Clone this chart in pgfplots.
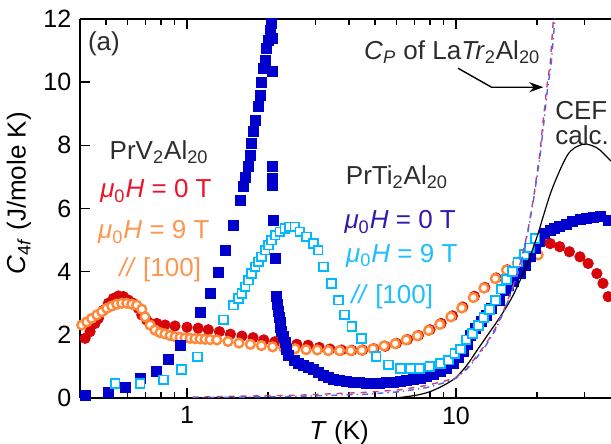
\documentclass[border=0pt]{standalone}
\usepackage{pgfplots}
\pgfplotsset{compat=1.18}
\usepackage{fontspec}
\setmainfont{Liberation Sans}
\usetikzlibrary{arrows.meta}
\definecolor{cred}{RGB}{215,5,10}
\definecolor{corange}{RGB}{255,135,55}
\definecolor{cblue}{RGB}{0,0,205}
\definecolor{ccyan}{RGB}{0,185,255}
\definecolor{lred}{RGB}{235,20,40}
\definecolor{lorange}{RGB}{255,150,80}
\definecolor{lblue}{RGB}{50,25,175}
\definecolor{lcyan}{RGB}{30,190,255}
\definecolor{cdark}{RGB}{45,45,45}
\definecolor{cpink}{RGB}{210,60,120}
\definecolor{cdash}{RGB}{80,100,230}
\newcommand{\lab}{\fontsize{13}{13}\selectfont}
\begin{document}
\fontsize{12.5}{15}\selectfont
\begin{tikzpicture}
\begin{axis}[
  scale only axis, width=265.5pt, height=189.5pt,
  xmode=log, xmin=0.4, xmax=37.7, ymin=0, ymax=12,
  axis x line*=box, axis y line*=left,
  axis line style={-, black, line width=0.8pt},
  tick align=inside,
  xtick={1,10}, xticklabels={1,10},
  minor xtick={0.5,0.6,0.7,0.8,0.9,2,3,4,5,6,7,8,9,20,30},
  ytick={0,2,4,6,8,10,12},
  major tick length=5pt, minor tick length=3pt,
  every tick/.style={black, line width=0.7pt},
  /pgf/number format/assume math mode=true,
  clip mode=individual,
  xlabel={\textit{T} (K)},
  ylabel={\textit{C}\textsubscript{4\textit{f}} (J/mole K)},
  every axis x label/.style={at={(axis description cs:0.488,0)}, anchor=north, yshift=-7pt, font=\lab},
  every axis y label/.style={at={(axis description cs:-0.115,0.54)}, rotate=90, anchor=center, font=\lab},
]
% PrV2Al20 0 T (red filled circles)
\addplot[only marks, mark=*, mark size=2.6pt, mark options={draw=cred, fill=cred}] coordinates {
(0.418,1.89)(0.436,2.10)(0.455,2.36)(0.468,2.52)(0.489,2.78)(0.51,3.0)(0.532,3.15)(0.556,3.23)(0.58,3.21)(0.605,3.10)(0.631,3.0)(0.659,2.84)(0.679,2.63)(0.708,2.47)(0.729,2.36)(0.772,2.36)(0.828,2.31)(0.902,2.28)(1.0,2.24)(1.1,2.21)(1.2,2.16)(1.32,2.10)(1.45,2.02)(1.6,1.96)(1.76,1.91)(1.93,1.84)(2.12,1.78)(2.33,1.74)(2.56,1.70)(2.82,1.67)(3.1,1.60)(3.4,1.55)(3.75,1.52)(4.1,1.51)(4.5,1.52)(4.95,1.56)(5.45,1.64)(6.0,1.73)(6.6,1.85)(7.25,1.98)(8.0,2.16)(8.8,2.36)(9.7,2.60)(10.6,2.88)(11.7,3.22)(12.8,3.50)(14.1,3.80)(15.5,4.06)(17.0,4.3)(18.5,4.5)(19.6,4.75)(20.8,4.95)(22.4,4.89)(24.3,4.79)(26.4,4.63)(28.9,4.47)(31.0,4.26)(33.4,3.94)(35.2,3.63)(36.8,3.21)(38.5,2.9)
};
% PrV2Al20 9 T (orange open circles)
\addplot[only marks, mark=*, mark size=2.2pt, mark options={draw=corange, fill=white, line width=1.2pt}] coordinates {
(0.406,2.31)(0.424,2.41)(0.442,2.52)(0.462,2.63)(0.482,2.73)(0.503,2.84)(0.525,2.91)(0.548,2.97)(0.572,3.0)(0.597,3.0)(0.623,2.97)(0.65,2.94)(0.679,2.81)(0.698,2.57)(0.729,2.31)(0.76,2.15)(0.794,2.07)(0.828,2.03)(0.865,1.98)(0.903,1.94)(0.942,1.92)(0.983,1.90)(1.026,1.89)(1.071,1.88)(1.118,1.87)(1.167,1.86)(1.218,1.85)(1.29,1.84)(1.42,1.79)(1.56,1.74)(1.72,1.70)(1.89,1.66)(2.08,1.62)(2.29,1.59)(2.52,1.56)(2.77,1.53)(3.05,1.52)(3.35,1.50)(3.69,1.50)(4.06,1.50)(4.46,1.51)(4.91,1.56)(5.40,1.65)(5.94,1.72)(6.53,1.84)(7.19,1.97)(7.91,2.14)(8.70,2.33)(9.57,2.57)(10.5,2.85)(11.6,3.18)(12.7,3.48)(14.0,3.78)(15.4,4.05)(16.9,4.27)(18.6,4.42)(20.2,4.53)
};
% PrTi2Al20 0 T (blue filled squares)
\addplot[only marks, mark=square*, mark size=2.5pt, mark options={draw=cblue, fill=cblue}] coordinates {
(0.418,0.09)(0.51,0.17)(0.588,0.34)(0.669,0.62)(0.772,0.83)(0.852,1.22)(0.942,1.65)(1.118,2.70)(1.218,3.31)(1.307,3.97)(1.384,4.68)(1.486,5.47)(1.574,6.27)(1.619,6.69)(1.643,7.0)(1.690,7.32)(1.714,7.69)(1.740,8.06)(1.764,8.43)(1.790,8.80)(1.841,9.22)(1.867,9.59)(1.895,10.0)(1.921,10.43)(1.949,10.70)(1.978,11.07)(2.005,11.33)(2.034,11.65)(2.063,11.86)(2.07,11.4)(2.07,10.33)(2.07,7.32)(2.07,6.95)(2.08,6.74)(2.093,5.63)(2.125,4.42)(2.153,3.21)(2.17,2.95)(2.184,2.73)(2.2,2.55)(2.215,2.40)(2.23,2.25)(2.248,2.12)(2.28,1.95)(2.312,1.75)(2.35,1.55)(2.38,1.36)(2.5,1.18)(2.6,1.10)(2.706,1.04)(2.82,0.96)(2.947,0.89)(3.08,0.80)(3.214,0.73)(3.35,0.66)(3.5,0.60)(3.7,0.55)(3.92,0.52)(4.15,0.49)(4.39,0.48)(4.65,0.46)(4.93,0.46)(5.2,0.47)(5.53,0.48)(5.85,0.50)(6.2,0.52)(6.55,0.55)(6.95,0.59)(7.35,0.63)(7.79,0.67)(8.25,0.74)(8.74,0.83)(9.25,0.95)(9.78,1.10)(10.2,1.28)(10.66,1.47)(11.0,1.7)(11.27,1.99)(11.85,2.2)(12.46,2.42)(13.0,2.62)(13.59,2.84)(14.55,3.10)(15.2,3.42)(15.7,3.55)(16.3,3.68)(17.3,3.94)(18.1,4.2)(18.9,4.47)(19.7,4.75)(20.5,4.95)(21.4,5.21)(22.4,5.32)(23.3,5.37)(24.3,5.42)(25.7,5.5)(27.2,5.58)(28.9,5.64)(30.6,5.69)(32.4,5.72)(34.3,5.74)(36.8,5.63)(38,5.6)
};
% PrTi2Al20 9 T (cyan open squares)
\addplot[only marks, mark=square*, mark size=2.2pt, mark options={draw=ccyan, fill=white, line width=0.9pt}] coordinates {
(0.54,0.46)(0.669,0.46)(0.817,0.57)(0.956,0.91)(1.095,1.30)(1.365,2.47)(1.486,2.94)(1.55,3.15)(1.60,3.31)(1.643,3.52)(1.69,3.73)(1.74,3.94)(1.79,4.15)(1.84,4.31)(1.895,4.47)(1.95,4.68)(2.005,4.84)(2.063,5.0)(2.125,5.16)(2.215,5.26)(2.31,5.37)(2.41,5.42)(2.52,5.42)(2.63,5.26)(2.78,5.10)(2.95,4.89)(3.07,4.68)(3.21,4.15)(3.45,3.63)(3.65,3.10)(3.86,2.63)(4.1,2.26)(4.46,1.89)(5.05,1.31)(5.6,1.05)(6.2,0.94)(6.75,0.94)(7.33,0.94)(8.0,0.99)(8.74,1.10)(9.37,1.20)(9.9,1.4)(10.4,1.55)(10.9,1.84)(11.5,2.05)(12.1,2.3)(12.7,2.55)(13.3,2.8)(14.0,3.1)(14.7,3.45)(15.4,3.75)(16.2,4.0)(17.0,4.3)(17.9,4.55)(18.8,4.75)(19.7,5.05)
};
% CEF calc.
\addplot[black, line width=0.6pt, smooth] coordinates {
(6.0,0.0)(7.14,0.09)(8.0,0.2)(9.0,0.4)(10.0,0.65)(11.0,1.05)(12.0,1.52)(13.0,1.95)(14.55,2.55)(16.3,3.25)(18.3,4.2)(20.0,5.1)(21.1,5.75)(22.5,6.5)(24.3,7.2)(26.0,7.7)(27.6,7.92)(29.5,8.03)(30.6,8.04)(32.5,7.97)(34.3,7.85)(37.7,7.5)
};
% Cp of LaTr2Al20 (two curves)
\addplot[cpink, line width=0.7pt, dashed] coordinates {
(1.05,0.03)(2.6,0.09)(4.65,0.18)(6.2,0.26)(7.79,0.40)(9.2,0.55)(10.0,0.65)(11.0,0.95)(12.0,1.35)(13.0,1.75)(14.0,2.2)(15.0,2.75)(16.0,3.35)(17.0,4.0)(17.8,4.65)(18.5,5.3)(19.4,6.3)(20.5,7.74)(21.1,8.8)(21.8,9.9)(22.4,10.6)(23.0,11.96)(23.1,12.2)
};
\addplot[cdash, line width=0.7pt, dash dot] coordinates {
(1.05,0.01)(2.6,0.05)(4.65,0.12)(6.2,0.2)(7.79,0.33)(9.2,0.5)(10.0,0.62)(11.0,0.92)(12.0,1.3)(13.0,1.7)(14.0,2.15)(15.0,2.7)(16.0,3.3)(17.0,3.95)(17.8,4.6)(18.5,5.25)(19.4,6.25)(20.5,7.6)(21.2,8.7)(21.9,9.8)(22.6,10.6)(23.3,11.96)(23.4,12.2)
};
% annotations
\node[font=\lab, text=cdark] at (rel axis cs:0.045,0.934) {(a)};
\node[font=\lab, text=cdark] at (rel axis cs:0.149,0.649) {PrV\textsubscript{2}Al\textsubscript{20}};
\node[font=\lab, text=lred] at (rel axis cs:0.143,0.546) {\textit{μ}\textsubscript{0}\textit{H} = 0 T};
\node[font=\lab, text=lorange] at (rel axis cs:0.139,0.438) {\textit{μ}\textsubscript{0}\textit{H} = 9 T};
\node[font=\lab, text=lorange] at (rel axis cs:0.151,0.338) {\textit{//} [100]};
\node[font=\lab, text=cdark] at (rel axis cs:0.701,0.913) {\textit{C}\textsubscript{\textit{P}} of La\textit{Tr}\textsubscript{2}Al\textsubscript{20}};
\node[font=\fontsize{13}{12.5}\selectfont, text=cdark, align=left, anchor=west, inner sep=0pt] at (rel axis cs:0.8945,0.7256) {CEF\\calc.};
\node[font=\lab, text=cdark] at (rel axis cs:0.597,0.583) {PrTi\textsubscript{2}Al\textsubscript{20}};
\node[font=\lab, text=lblue] at (rel axis cs:0.603,0.464) {\textit{μ}\textsubscript{0}\textit{H} = 0 T};
\node[font=\lab, text=lcyan] at (rel axis cs:0.606,0.375) {\textit{μ}\textsubscript{0}\textit{H} = 9 T};
\node[font=\lab, text=lcyan] at (rel axis cs:0.588,0.266) {\textit{//} [100]};
\draw[-{Stealth[length=7pt,width=5pt]}, line width=0.7pt, black] (rel axis cs:0.712,0.870) -- (rel axis cs:0.775,0.820) -- (rel axis cs:0.8725,0.820);
\end{axis}
\pgfresetboundingbox
\useasboundingbox ([shift={(-40pt,-23pt)}]current axis.south west) rectangle ([shift={(0pt,9.5pt)}]current axis.north east);
\end{tikzpicture}
\end{document}
